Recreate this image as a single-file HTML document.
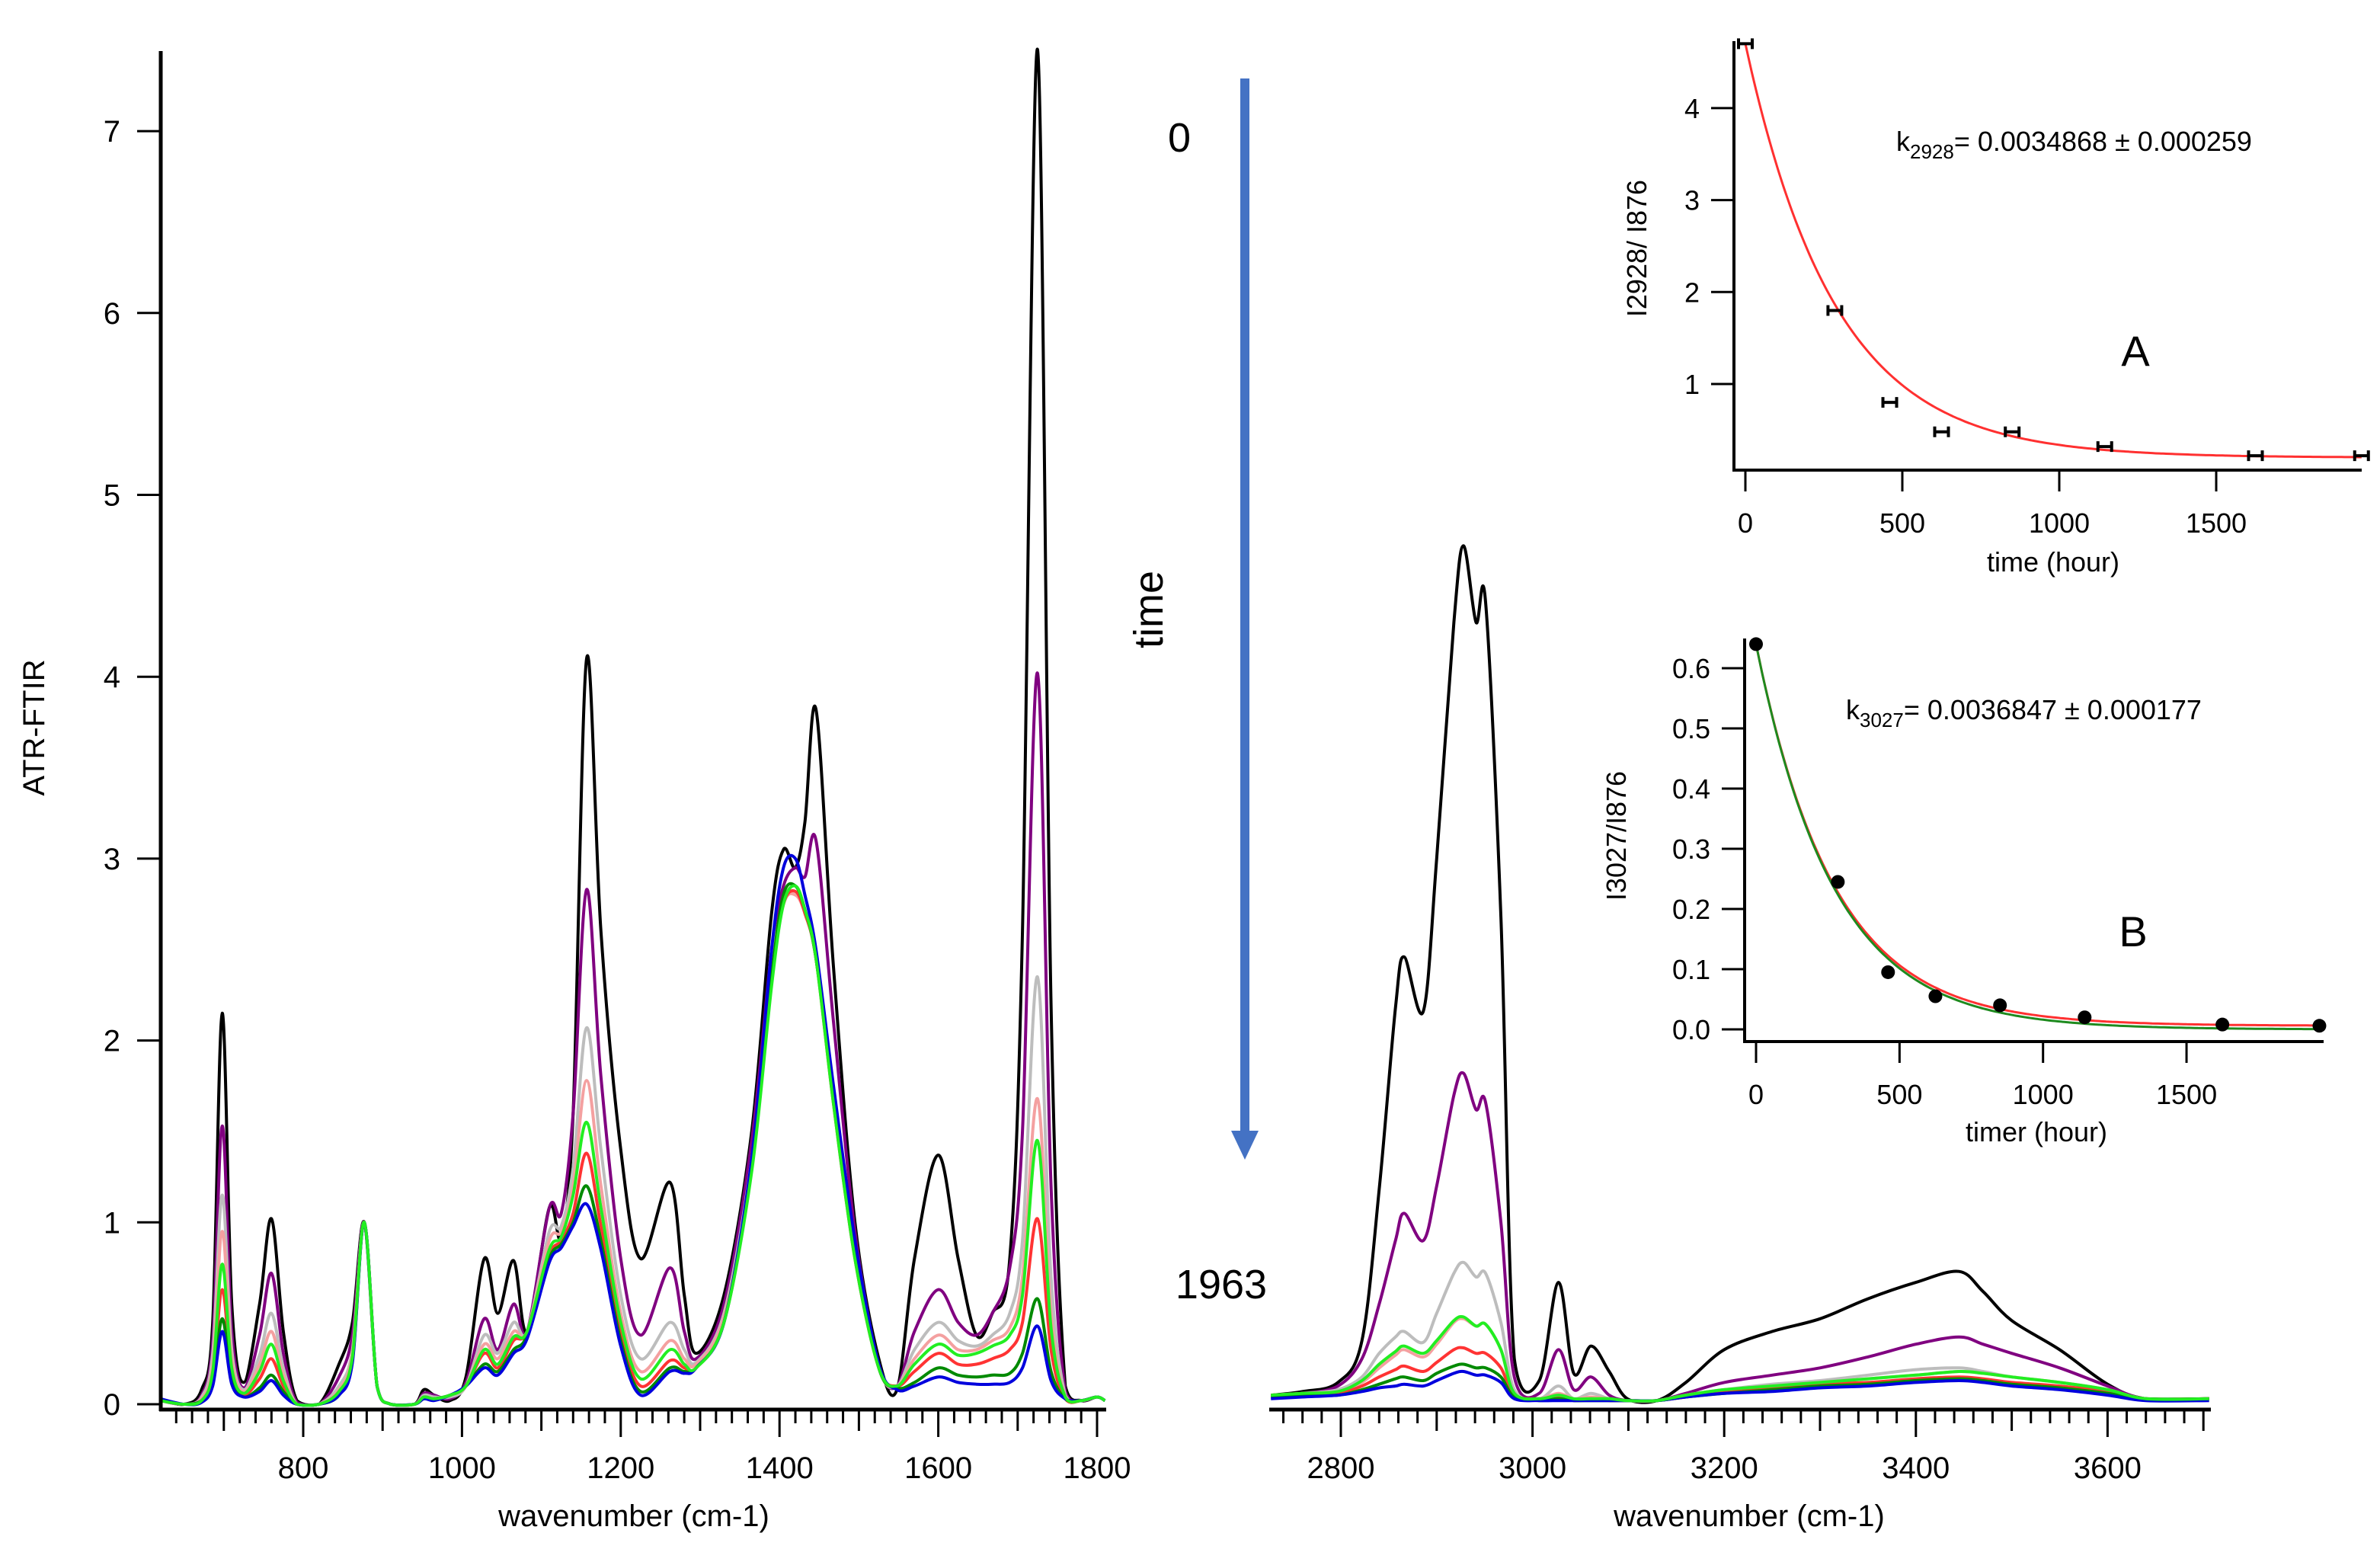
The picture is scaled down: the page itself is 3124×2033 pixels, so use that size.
<!DOCTYPE html>
<html><head><meta charset="utf-8"><style>
html,body{margin:0;padding:0;background:#fff;}
svg{display:block;font-family:"Liberation Sans",Arial,sans-serif;}
</style></head><body>
<svg id="fig" width="3124" height="2033" viewBox="0 0 3124 2033" xmlns="http://www.w3.org/2000/svg">
<rect width="3124" height="2033" fill="#fff"/>
<g id="left"></g>
<g id="right"></g>
<g id="insetA"></g>
<g id="insetB"></g>
<g>
<text x="1548" y="199" font-size="54" text-anchor="middle">0</text>
<text x="1508" y="800" font-size="54" text-anchor="middle" transform="rotate(-90 1508 800)" dy="18">time</text>
<text x="1603" y="1704" font-size="54" text-anchor="middle">1963</text>
<line x1="1634" y1="103" x2="1634" y2="1490" stroke="#4472C4" stroke-width="12"/>
<polygon points="1616,1484 1652,1484 1634,1522" fill="#4472C4"/>
</g>
</svg>
<script>
const NS="http://www.w3.org/2000/svg";
const colors=["#000000","#800080","#bdbdbd","#f4a0a0","#ff3333","#008a00","#0000dd","#22ee22"];
const seriesNames=["t0","t1","t2","t3","t4","t5","t6","t7"];
// Left region (cm-1)
const wL=[620,650,672,686,698,710,725,745,760,775,792,820,845,862,877,893,910,940,952,965,985,1005,1028,1045,1065,1082,1110,1125,1140,1157,1175,1200,1225,1262,1280,1295,1330,1365,1390,1405,1420,1432,1446,1468,1495,1525,1548,1570,1600,1625,1648,1668,1690,1706,1725,1742,1760,1780,1800,1810];
const L_black =[.03,0,.08,.45,2.15,.55,.12,.55,1.02,.4,.02,0,.22,.45,1,.1,0,0,.08,.05,.02,.15,.8,.5,.79,.4,1.08,.92,1.6,4.1,2.6,1.4,.8,1.22,.6,.28,.6,1.5,2.7,3.05,2.95,3.2,3.82,2.4,1.0,.25,.08,.8,1.37,.8,.38,.5,.8,2.6,7.45,2.2,.1,.02,.04,.02];
const L_purple=[.02,0,.05,.35,1.53,.4,.09,.38,.72,.28,.01,0,.15,.38,1,.1,0,0,.06,.05,.03,.12,.47,.3,.55,.4,1.08,1.05,1.6,2.83,1.8,.8,.38,.75,.4,.25,.55,1.45,2.5,2.85,2.95,2.9,3.1,2.1,.95,.22,.1,.4,.63,.45,.38,.5,.75,1.5,4.02,1.2,.07,.02,.04,.02];
const L_gray  =[.02,0,.04,.28,1.15,.3,.08,.27,.5,.2,0,0,.1,.3,1,.1,0,0,.05,.04,.04,.1,.38,.28,.45,.4,.95,.98,1.3,2.07,1.4,.6,.25,.45,.3,.23,.5,1.35,2.4,2.75,2.82,2.7,2.45,1.7,.85,.2,.1,.3,.45,.35,.32,.38,.5,.9,2.35,.7,.05,.02,.04,.02];
const L_pink  =[.02,0,.03,.22,.95,.25,.07,.22,.4,.16,0,0,.08,.28,1,.1,0,0,.04,.03,.05,.1,.33,.25,.4,.4,.9,.95,1.2,1.78,1.2,.5,.18,.35,.25,.22,.48,1.3,2.35,2.75,2.8,2.7,2.45,1.7,.85,.2,.1,.25,.38,.3,.3,.35,.42,.7,1.68,.5,.04,.02,.04,.02];
const L_red   =[.02,0,.02,.15,.63,.17,.05,.14,.25,.1,0,0,.06,.25,1,.1,0,0,.04,.03,.05,.1,.28,.2,.35,.4,.82,.9,1.05,1.38,.98,.4,.1,.24,.2,.2,.45,1.3,2.35,2.75,2.82,2.7,2.45,1.65,.8,.2,.1,.18,.28,.22,.22,.25,.3,.45,1.02,.3,.03,.02,.04,.02];
const L_dgreen=[.02,0,.02,.12,.47,.13,.04,.09,.16,.07,0,0,.05,.24,1,.1,0,0,.03,.03,.05,.1,.22,.18,.3,.38,.8,.88,1.0,1.2,.9,.35,.07,.2,.18,.2,.45,1.3,2.35,2.8,2.85,2.72,2.45,1.7,.85,.2,.09,.12,.2,.16,.15,.16,.17,.28,.58,.18,.03,.02,.04,.02];
const L_blue  =[.03,0,.01,.1,.40,.11,.04,.07,.13,.05,0,0,.05,.23,1,.1,0,0,.03,.02,.05,.1,.2,.16,.28,.36,.78,.86,.98,1.1,.85,.32,.05,.18,.17,.2,.45,1.35,2.5,2.95,3.0,2.8,2.5,1.75,.9,.22,.08,.1,.15,.12,.11,.11,.12,.2,.43,.13,.03,.02,.04,.02];
const L_lime  =[.02,0,.02,.18,.77,.2,.06,.18,.33,.13,0,0,.07,.26,1,.1,0,0,.04,.03,.05,.1,.3,.22,.37,.4,.85,.92,1.15,1.55,1.08,.45,.14,.3,.22,.2,.45,1.28,2.3,2.75,2.85,2.72,2.45,1.65,.8,.2,.1,.22,.33,.27,.28,.32,.38,.6,1.45,.42,.04,.02,.04,.02];
// Right region (cm-1)
const wR=[2727,2760,2797,2822,2840,2857,2866,2886,2900,2918,2928,2941,2951,2967,2981,3007,3027,3043,3061,3080,3099,3130,3160,3200,3250,3300,3350,3400,3445,3470,3500,3550,3600,3640,3706];
const R_black =[.05,.07,.12,.35,1.18,2.18,2.46,2.16,3.0,4.3,4.72,4.3,4.41,2.68,.25,.13,.67,.17,.32,.18,.03,.02,.12,.3,.4,.47,.58,.67,.73,.62,.46,.3,.11,.03,.03];
const R_purple=[.05,.06,.1,.25,.55,.9,1.05,.9,1.2,1.7,1.82,1.62,1.66,1.0,.15,.06,.3,.08,.15,.05,.02,.02,.06,.12,.16,.2,.26,.33,.37,.33,.28,.2,.1,.03,.03];
const R_gray  =[.05,.06,.08,.15,.28,.37,.4,.34,.5,.72,.78,.7,.72,.45,.08,.03,.1,.03,.06,.03,.02,.02,.05,.08,.11,.13,.16,.19,.2,.18,.15,.12,.08,.03,.03];
const R_pink  =[.05,.06,.07,.12,.2,.27,.3,.26,.33,.45,.47,.43,.44,.3,.06,.03,.06,.03,.04,.03,.02,.02,.05,.08,.1,.12,.14,.16,.18,.17,.15,.12,.08,.03,.03];
const R_red   =[.05,.05,.06,.1,.15,.19,.21,.18,.23,.3,.31,.28,.28,.2,.05,.03,.04,.02,.03,.02,.02,.02,.04,.07,.09,.11,.12,.14,.15,.14,.12,.1,.07,.03,.03];
const R_dgreen=[.04,.05,.05,.08,.11,.14,.15,.13,.17,.21,.22,.2,.2,.15,.04,.02,.03,.02,.02,.02,.02,.02,.04,.06,.08,.1,.11,.13,.14,.13,.11,.09,.06,.03,.03];
const R_blue  =[.03,.04,.05,.07,.09,.1,.11,.1,.13,.17,.18,.16,.16,.12,.03,.02,.02,.02,.02,.02,.02,.02,.04,.06,.07,.09,.1,.12,.13,.12,.1,.08,.05,.02,.02];
const R_lime  =[.05,.06,.07,.13,.22,.29,.32,.28,.35,.46,.48,.43,.44,.3,.06,.03,.05,.03,.03,.03,.02,.02,.05,.08,.1,.12,.14,.16,.18,.17,.15,.12,.08,.03,.03];
const yTicksL=[0,1,2,3,4,5,6,7];
const xTicksL=[800,1000,1200,1400,1600,1800];
const xTicksR=[2800,3000,3200,3400,3600];
// Inset A
const tA=[0,285,460,625,850,1145,1625,1963];
const vA=[4.7,1.8,0.8,0.48,0.48,0.32,0.22,0.22];
const fitA=[4.5,0.0034868,0.2]; // amplitude, rate, offset
const yTicksA=[1,2,3,4];
const xTicksIn=[0,500,1000,1500];
// Inset B
const tB=[0,285,460,625,850,1145,1625,1963];
const vB=[0.64,0.245,0.095,0.055,0.04,0.02,0.008,0.006];
const fitBgreen=[0.64,0.0036847,0.0];
const fitBred=[0.634,0.0036847,0.006];
const yTicksB=[0,0.1,0.2,0.3,0.4,0.5,0.6];

function el(tag,attrs,parent){const e=document.createElementNS(NS,tag);for(const k in attrs)e.setAttribute(k,attrs[k]);parent.appendChild(e);return e;}
function smooth(pts,maxY){let d="M"+pts[0][0].toFixed(1)+","+pts[0][1].toFixed(1);
 const cl=y=>maxY===undefined?y:Math.min(maxY,y);
 for(let i=0;i<pts.length-1;i++){const p0=pts[Math.max(0,i-1)],p1=pts[i],p2=pts[i+1],p3=pts[Math.min(pts.length-1,i+2)];
  const c1x=p1[0]+(p2[0]-p0[0])/6,c1y=cl(p1[1]+(p2[1]-p0[1])/6),c2x=p2[0]-(p3[0]-p1[0])/6,c2y=cl(p2[1]-(p3[1]-p1[1])/6);
  d+=` C${c1x.toFixed(1)},${c1y.toFixed(1)} ${c2x.toFixed(1)},${c2y.toFixed(1)} ${p2[0].toFixed(1)},${p2[1].toFixed(1)}`;}
 return d;}

const xL=w=>398+(w-800)*1.042;
const xR=w=>1760+(w-2800)*1.258;
const yS=v=>1843-v*238.7;

function spectra(g,ws,list,xf,prefix){
 [0,1,2,3,4,5,6,7].forEach(i=>{const vals=list[i];const pts=ws.map((w,j)=>[xf(w),yS(vals[j])]);
  const p=el("path",{d:smooth(pts,1845),fill:"none",stroke:colors[i],"stroke-width":4,"stroke-linejoin":"round"},g);
  
  
 });
}
function xAxis(g,x0,x1,wStart,wEnd,xf,labels,prefix){
 const ax=el("line",{x1:x0,y1:1850,x2:x1,y2:1850,stroke:"#000","stroke-width":5},g);
 
 
 for(let w=wStart;w<=wEnd;w+=20){const len=w%200===0?36:(w%100===0?28:18);
  const t=el("line",{x1:xf(w),y1:1850,x2:xf(w),y2:1850+len,stroke:"#000","stroke-width":3},g);
  
  }
 labels.forEach(w=>{const t=el("text",{x:xf(w),y:1940,"font-size":40,"text-anchor":"middle"},g);t.textContent=w;
  
  });
}
// LEFT
const gL=document.getElementById("left");
spectra(gL,wL,[L_black,L_purple,L_gray,L_pink,L_red,L_dgreen,L_blue,L_lime],xL,"left-series");
const yaxL=el("line",{x1:211,y1:67,x2:211,y2:1852,stroke:"#000","stroke-width":5},gL);


yTicksL.forEach(v=>{const t=el("line",{x1:180,y1:yS(v),x2:211,y2:yS(v),stroke:"#000","stroke-width":3},gL);
 
 
 const l=el("text",{x:158,y:yS(v)+14,"font-size":40,"text-anchor":"end"},gL);l.textContent=v;
 
 });
xAxis(gL,209,1452,640,1800,xL,xTicksL,"left");
const ylab=el("text",{x:44,y:955,"font-size":40,"text-anchor":"middle",transform:"rotate(-90 44 955)",dy:14},gL);ylab.textContent="ATR-FTIR";


const xlabL=el("text",{x:832,y:2003,"font-size":40,"text-anchor":"middle"},gL);xlabL.textContent="wavenumber (cm-1)";


// RIGHT
const gR=document.getElementById("right");
spectra(gR,wR,[R_black,R_purple,R_gray,R_pink,R_red,R_dgreen,R_blue,R_lime],xR,"right-series");
xAxis(gR,1666,2902,2740,3700,xR,xTicksR,"right");
const xlabR=el("text",{x:2296,y:2003,"font-size":40,"text-anchor":"middle"},gR);xlabR.textContent="wavenumber (cm-1)";



// INSETS
function inset(g,cfg){
 const {ax0,axTop,axBottom,axRight,xf,yf,yTicks,yFmt,prefix}=cfg;
 const ya=el("line",{x1:ax0,y1:axTop,x2:ax0,y2:axBottom+2,stroke:"#000","stroke-width":4},g);
 
 
 const xa=el("line",{x1:ax0-2,y1:axBottom,x2:axRight,y2:axBottom,stroke:"#000","stroke-width":4},g);
 
 
 yTicks.forEach(v=>{const t=el("line",{x1:ax0-30,y1:yf(v),x2:ax0,y2:yf(v),stroke:"#000","stroke-width":3},g);
  
  
  const l=el("text",{x:ax0-45,y:yf(v)+13,"font-size":36,"text-anchor":"end"},g);l.textContent=yFmt(v);
  
  });
 xTicksIn.forEach(t0=>{const t=el("line",{x1:xf(t0),y1:axBottom,x2:xf(t0),y2:axBottom+28,stroke:"#000","stroke-width":3},g);
  
  
  const l=el("text",{x:xf(t0),y:axBottom+82,"font-size":36,"text-anchor":"middle"},g);l.textContent=t0;
  
  });
}
function fitPath(g,fit,xf,yf,col,name){const pts=[];for(let t=0;t<=1963;t+=20){pts.push([xf(t),yf(fit[0]*Math.exp(-fit[1]*t)+fit[2])]);}
 pts.push([xf(1963),yf(fit[0]*Math.exp(-fit[1]*1963)+fit[2])]);
 const p=el("path",{d:smooth(pts),fill:"none",stroke:col,"stroke-width":3},g);
 
 }

const gA=document.getElementById("insetA");
const xA=t=>2291+t*0.412, yA=v=>504+(1-v)*120.7;
inset(gA,{ax0:2276,axTop:54,axBottom:617,axRight:3100,xf:xA,yf:yA,yTicks:yTicksA,yFmt:v=>v,prefix:"inset-a"});
fitPath(gA,fitA,xA,yA,"#ff3030","inset-a-fit-curve");
tA.forEach((t,i)=>{const cx=xA(t),cy=yA(vA[i]);
 const m=el("path",{d:`M${cx-9},${cy} H${cx+9} M${cx-9},${cy-7} V${cy+7} M${cx+9},${cy-7} V${cy+7}`,stroke:"#000","stroke-width":4,fill:"none"},gA);
 
 });
const kA=el("text",{x:2489,y:198,"font-size":36},gA);
kA.innerHTML='k<tspan font-size="26" dy="10">2928</tspan><tspan dy="-10">= 0.0034868 ± 0.000259</tspan>';


const lA=el("text",{x:2803,y:480,"font-size":56,"text-anchor":"middle"},gA);lA.textContent="A";


const yAl=el("text",{x:2149,y:326,"font-size":36,"text-anchor":"middle",transform:"rotate(-90 2149 326)",dy:12},gA);yAl.textContent="I2928/ I876";


const xAl=el("text",{x:2695,y:750,"font-size":36,"text-anchor":"middle"},gA);xAl.textContent="time (hour)";



const gB=document.getElementById("insetB");
const xB=t=>2305+t*0.3767, yB=v=>1351-v*790;
inset(gB,{ax0:2290,axTop:838,axBottom:1367,axRight:3050,xf:xB,yf:yB,yTicks:yTicksB,yFmt:v=>v.toFixed(1),prefix:"inset-b"});
fitPath(gB,fitBred,xB,yB,"#ff3030","inset-b-fit-red");
fitPath(gB,fitBgreen,xB,yB,"#1e8a1e","inset-b-fit-green");
tB.forEach((t,i)=>{const c=el("circle",{cx:xB(t),cy:yB(vB[i]),r:9,fill:"#000"},gB);
 
 });
const kB=el("text",{x:2423,y:944,"font-size":36},gB);
kB.innerHTML='k<tspan font-size="26" dy="10">3027</tspan><tspan dy="-10">= 0.0036847 ± 0.000177</tspan>';


const lB=el("text",{x:2800,y:1242,"font-size":56,"text-anchor":"middle"},gB);lB.textContent="B";


const yBl=el("text",{x:2122,y:1097,"font-size":36,"text-anchor":"middle",transform:"rotate(-90 2122 1097)",dy:12},gB);yBl.textContent="I3027/I876";


const xBl=el("text",{x:2673,y:1498,"font-size":36,"text-anchor":"middle"},gB);xBl.textContent="timer (hour)";


</script>
</body></html>
